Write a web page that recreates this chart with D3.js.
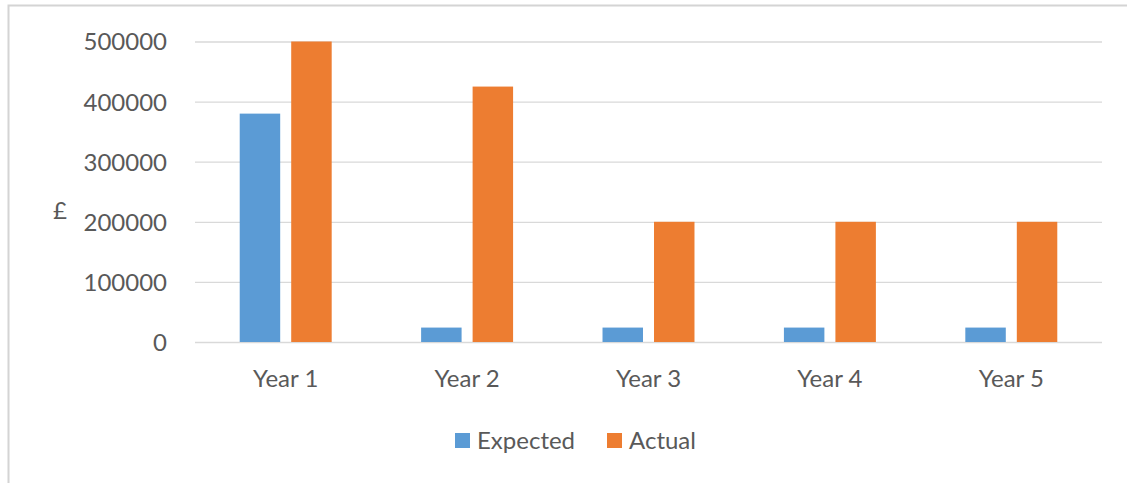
<!DOCTYPE html>
<html>
<head>
<meta charset="utf-8">
<script src="https://cdn.jsdelivr.net/npm/d3@7"></script>
<style>
  body { margin: 0; background: #fff; }
  svg { display: block; }
  .tick text { fill: #595959; font-family: Lato, "Open Sans", sans-serif; }
</style>
</head>
<body>
<div id="chart"></div>
<script>
const categories = ["Year 1", "Year 2", "Year 3", "Year 4", "Year 5"];
const expected = [380000, 24000, 24000, 24000, 24000];
const actual = [500000, 425000, 200000, 200000, 200000];
const seriesNames = ["Expected", "Actual"];
const yTicks = [0, 100000, 200000, 300000, 400000, 500000];

const colors = {Expected: "#5b9bd5", Actual: "#ed7d31"};

const W = 1127, H = 483;
const margin = {top: 41.5, right: 25, bottom: 141, left: 195},
  width = 1102 - margin.left,
  height = 342 - margin.top;

const rows = categories.map((c, i) => ({cat: c, Expected: expected[i], Actual: actual[i]}));

const svg = d3.select("#chart").append("svg")
  .attr("width", W)
  .attr("height", H);

// chart frame (only left and top edges fall inside the picture)
svg.append("rect")
  .attr("x", 8.5).attr("y", 5.5)
  .attr("width", W + 20).attr("height", H + 20)
  .attr("fill", "none")
  .attr("stroke", "#d4d4d4")
  .attr("stroke-width", 2);

const plot = svg.append("g")
  .attr("transform", "translate(" + margin.left + "," + margin.top + ")");

const x = d3.scaleBand()
  .domain(categories)
  .range([0, width]);

// inner band for the two series inside each year
const x1 = d3.scaleBand()
  .domain(seriesNames)
  .range([x.bandwidth() * 0.2465, x.bandwidth() * 0.7535])
  .paddingInner(0.214);

const y = d3.scaleLinear()
  .domain([0, 500000])
  .range([height, 0]);

// gridlines + y labels
const yAxis = d3.axisLeft(y)
  .tickValues(yTicks)
  .tickSize(-width)
  .tickPadding(28)
  .tickFormat(d3.format("d"));

plot.append("g")
  .attr("class", "axis axis-y")
  .call(yAxis)
  .call(g => g.select(".domain").remove())
  .call(g => g.selectAll(".tick line").attr("stroke", "#d9d9d9").attr("stroke-width", 1.3))
  .call(g => g.selectAll(".tick text").style("font-size", "24px").attr("dy", "0.35em"));

// bars
const groups = plot.selectAll(".grp")
  .data(rows)
  .enter().append("g")
  .attr("class", "grp")
  .attr("transform", d => "translate(" + x(d.cat) + ",0)");

groups.selectAll("rect")
  .data(d => seriesNames.map(k => ({key: k, value: d[k]})))
  .enter().append("rect")
  .attr("x", d => x1(d.key))
  .attr("width", x1.bandwidth())
  .attr("y", d => y(d.value))
  .attr("height", d => height - y(d.value))
  .attr("fill", d => colors[d.key]);

// x labels
const xAxis = d3.axisBottom(x).tickSize(0).tickPadding(28);
plot.append("g")
  .attr("class", "axis axis-x")
  .attr("transform", "translate(0," + height + ")")
  .call(xAxis)
  .call(g => g.select(".domain").remove())
  .call(g => g.selectAll(".tick text").style("font-size", "24px"));

// axis title
svg.append("text")
  .attr("x", 60)
  .attr("y", 219)
  .attr("text-anchor", "middle")
  .style("font-family", "Lato, 'Open Sans', sans-serif")
  .style("font-size", "24px")
  .style("fill", "#595959")
  .text("£");

// legend
const legendItems = [
  {name: "Expected", x: 455},
  {name: "Actual", x: 607}
];
const legend = svg.append("g").attr("class", "legend");
const li = legend.selectAll("g")
  .data(legendItems)
  .enter().append("g")
  .attr("transform", d => "translate(" + d.x + ",433)");
li.append("rect")
  .attr("width", 15).attr("height", 15)
  .attr("fill", d => colors[d.name]);
li.append("text")
  .attr("x", 22)
  .attr("y", 7.5)
  .attr("dy", "0.35em")
  .style("font-family", "Lato, 'Open Sans', sans-serif")
  .style("font-size", "24px")
  .style("fill", "#595959")
  .text(d => d.name);
</script>
</body>
</html>
